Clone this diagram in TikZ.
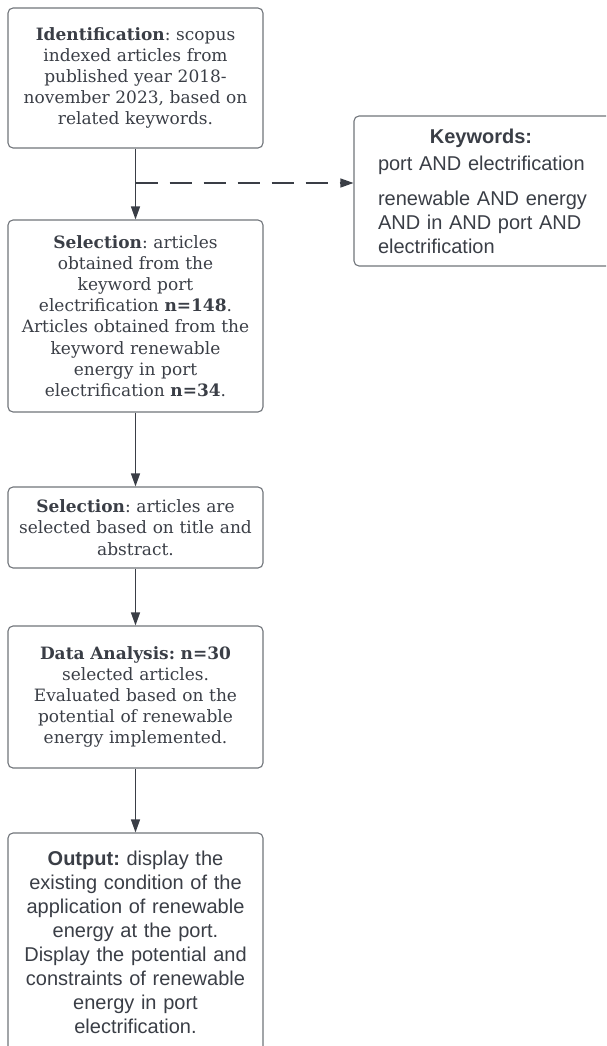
\documentclass[tikz,border=0pt]{standalone}
\usepackage{xcolor}
\usepackage{fontspec}
\setmainfont{DejaVu Serif}
\newfontfamily\sansfont{Liberation Sans}
\usepackage{tikz}
\usetikzlibrary{arrows.meta,positioning,calc}
\definecolor{inkgray}{RGB}{58,62,70}
\definecolor{edgegray}{RGB}{112,116,122}
\frenchspacing
\hyphenpenalty=10000

\begin{document}
\begin{tikzpicture}[
  x=1pt,y=-1pt,
  text=inkgray,
  serifbox/.style={draw=edgegray,line width=1.1pt,rounded corners=5pt,minimum width=255pt,text width=245pt,align=center,inner sep=0pt,font=\fontsize{17}{21.2}\selectfont},
  sansbox/.style={serifbox,font=\sansfont\fontsize{20}{24}\selectfont},
  arr/.style={-{Triangle[length=13pt,width=9pt]},line width=1.2pt,draw=inkgray},
  dasharr/.style={arr,dash pattern=on 22pt off 12pt},
]
\useasboundingbox (0,0) rectangle (606,1046);
\clip (0,0) rectangle (606,1046);

% identification
\node[serifbox,minimum height=140pt] (ident) at (135.5,78) {\textbf{Identification}: scopus\\ indexed articles from\\ published year 2018-\\ november 2023, based on\\ related keywords.};

% keywords
\node[sansbox,minimum width=264pt,minimum height=150pt,text width=216pt,align=left] (kw) at (486,191) {\makebox[206pt][c]{\textbf{Keywords:}}\\[3pt] port AND electrification\\[11pt] renewable AND energy\\ AND in AND port AND\\ electrification};

% selection
\node[serifbox,minimum height=192pt] (selkw) at (135.5,316) {\textbf{Selection}: articles\\ obtained from the\\ keyword port\\ electrification \textbf{n=148}.\\ Articles obtained from the\\ keyword renewable\\ energy in port\\ electrification \textbf{n=34}.};
\node[serifbox,minimum height=81pt] (seltitle) at (135.5,527.5) {\textbf{Selection}: articles are\\ selected based on title and\\ abstract.};

% analysis
\node[serifbox,minimum height=142pt] (analysis) at (135.5,697) {\textbf{Data Analysis: n=30}\\ selected articles.\\ Evaluated based on the\\ potential of renewable\\ energy implemented.};

% output
\node[sansbox,minimum height=218pt] (output) at (135.5,942) {\textbf{Output:} display the\\ existing condition of the\\ application of renewable\\ energy at the port.\\ Display the potential and\\ constraints of renewable\\ energy in port\\ electrification.};

% edges
\draw[arr] (ident) -- (selkw);
\draw[arr] (selkw) -- (seltitle);
\draw[arr] (seltitle) -- (analysis);
\draw[arr] (analysis) -- (output);

\coordinate (fork) at (135.5,183);
\draw[dasharr] (fork) -- (fork -| kw.west);

\end{tikzpicture}
\end{document}
